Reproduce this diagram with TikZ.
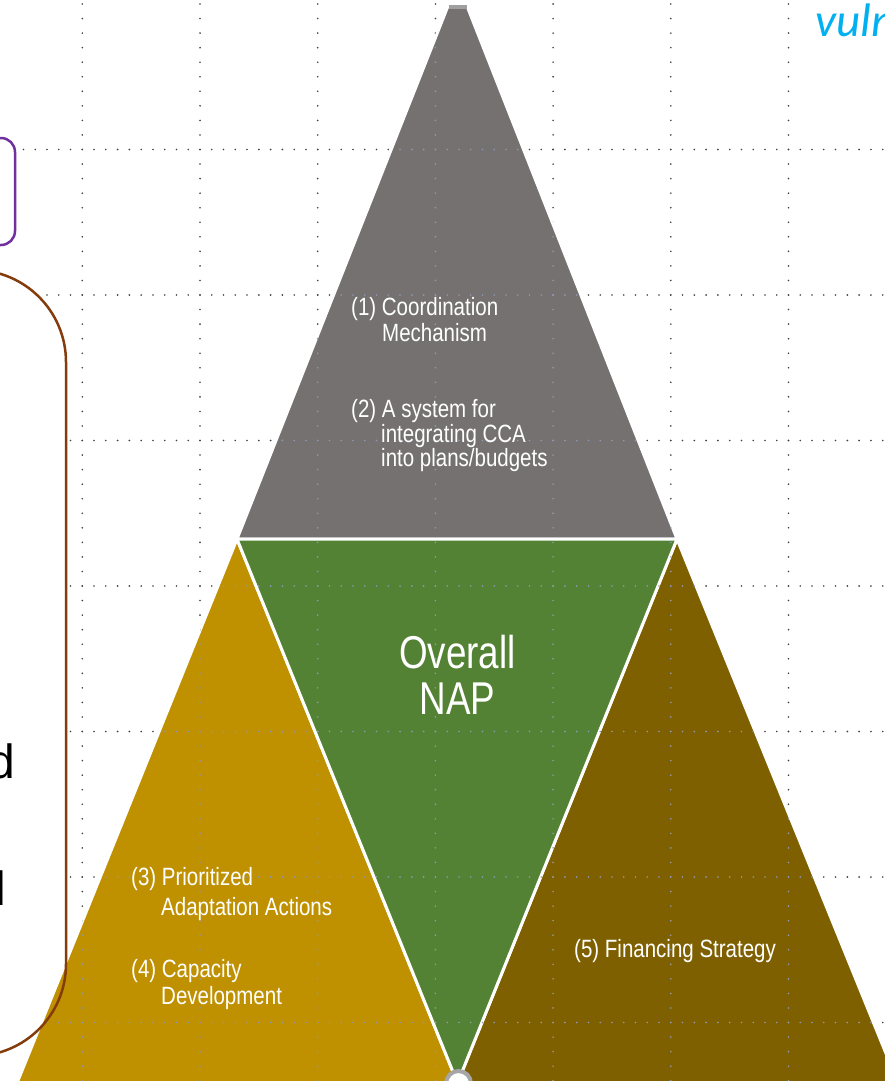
\documentclass[tikz,border=0pt]{standalone}
\usepackage{fontspec}
\setmainfont{Liberation Sans}
\newfontfamily\narrowfont[FakeStretch=0.82]{Liberation Sans}
\newfontfamily\bignarrow[FakeStretch=0.8]{Liberation Sans}
\newfontfamily\calfont{Carlito}
\definecolor{triGray}{HTML}{767171}
\definecolor{triGreen}{HTML}{548235}
\definecolor{triGold}{HTML}{BF9000}
\definecolor{triDark}{HTML}{7F6000}
\definecolor{boxPurple}{HTML}{7030A0}
\definecolor{boxBrown}{HTML}{843C0C}
\definecolor{vulnCyan}{HTML}{00B0F0}
\definecolor{dotDark}{HTML}{404040}
\definecolor{dotLight}{HTML}{8C9AB4}
\newcommand\griddots[1]{%
  \foreach \i in {0,...,6} {%
    \foreach \k in {-10,...,64} {%
      \fill[#1] (82.3+117.7*\i, 149.5+14.55*\k) circle (0.9);
    }%
  }%
  \foreach \j in {0,...,6} {%
    \foreach \k in {-6,...,68} {%
      \fill[#1] (82.3+11.77*\k, 149.5+145.5*\j) circle (0.9);
    }%
  }%
}
\begin{document}
\begin{tikzpicture}[x=1pt,y=-1pt,
  tri/.style={draw=white,line width=3pt,line join=miter},
  tritext/.style={anchor=base west,inner sep=0pt,text=white,font=\narrowfont\fontsize{25}{25}\selectfont},
  bigtext/.style={anchor=base,inner sep=0pt,text=white,font=\bignarrow\fontsize{46}{46}\selectfont},
  sidetext/.style={anchor=base west,inner sep=0pt,text=black,font=\fontsize{48}{48}\selectfont},
  roundbox/.style={rounded corners=#1,line width=2.5pt,inner sep=0pt}
]
\useasboundingbox (0,0) rectangle (884,1081);
% vertices
\coordinate (gtl) at (448,6);
\coordinate (gtr) at (467,6);
\coordinate (bl) at (237,539);
\coordinate (br) at (677,539);
\coordinate (bot) at (457.5,1083);
\coordinate (gl) at (17,1083);
\coordinate (dr) at (898,1083);
% grid under everything
\griddots{dotDark}
% box fills
\fill[white,rounded corners=14] (-40,138) rectangle (15,245);
\fill[white,rounded corners=92] (-100,270) rectangle (66,1056);
% triangles
\filldraw[tri,fill=triGray] (gtl) -- (gtr) -- (br) -- (bl) -- cycle;
\filldraw[tri,fill=triGold] (bl) -- (bot) -- (gl) -- cycle;
\filldraw[tri,fill=triDark] (br) -- (dr) -- (bot) -- cycle;
\filldraw[tri,fill=triGreen] (bl) -- (br) -- (bot) -- cycle;
% grid over triangles
\begin{scope}
  \clip (gtl) -- (gtr) -- (br) -- (bl) -- cycle
        (bl) -- (bot) -- (gl) -- cycle
        (br) -- (dr) -- (bot) -- cycle
        (bl) -- (br) -- (bot) -- cycle;
  \griddots{dotLight}
\end{scope}
% top cap and bottom handle
\fill[gray!75] (449,5) rectangle (467,9);
\node[circle,draw=gray!70,line width=4pt,fill=white,minimum size=25pt,inner sep=0pt] (handle) at (458.5,1083.5) {};
% boxes (strokes)
\node[roundbox=14,draw=boxPurple,minimum width=55pt,minimum height=107pt] (pbox) at (-12.5,191.5) {};
\node[roundbox=92,draw=boxBrown,minimum width=166pt,minimum height=786pt] (bbox) at (-17,663) {};
% side texts (cut off)
\node[sidetext] (sideD) at (-11.3,778) {d};
\node[sidetext] (sideL) at (-4.4,905) {l};
\node[anchor=base west,inner sep=0pt,text=vulnCyan,font=\calfont\itshape\fontsize{47}{47}\selectfont] (vuln) at (815,37) {vuln};
% triangle texts
\node[tritext] (t1a) at (351,315) {(1) Coordination};
\node[tritext] (t1b) at (382,341) {Mechanism};
\node[tritext] (t2a) at (351,417) {(2) A system for};
\node[tritext] (t2b) at (381,442) {integrating CCA};
\node[tritext] (t2c) at (381,466) {into plans/budgets};
\node[bigtext] (ov1) at (457.5,668) {Overall};
\node[bigtext] (ov2) at (457.5,714) {NAP};
\node[tritext] (t3a) at (131,885) {(3) Prioritized};
\node[tritext] (t3b) at (161,915) {Adaptation Actions};
\node[tritext] (t4a) at (131,977) {(4) Capacity};
\node[tritext] (t4b) at (161,1004) {Development};
\node[tritext] (t5) at (574,957) {(5) Financing Strategy};
\end{tikzpicture}
\end{document}
